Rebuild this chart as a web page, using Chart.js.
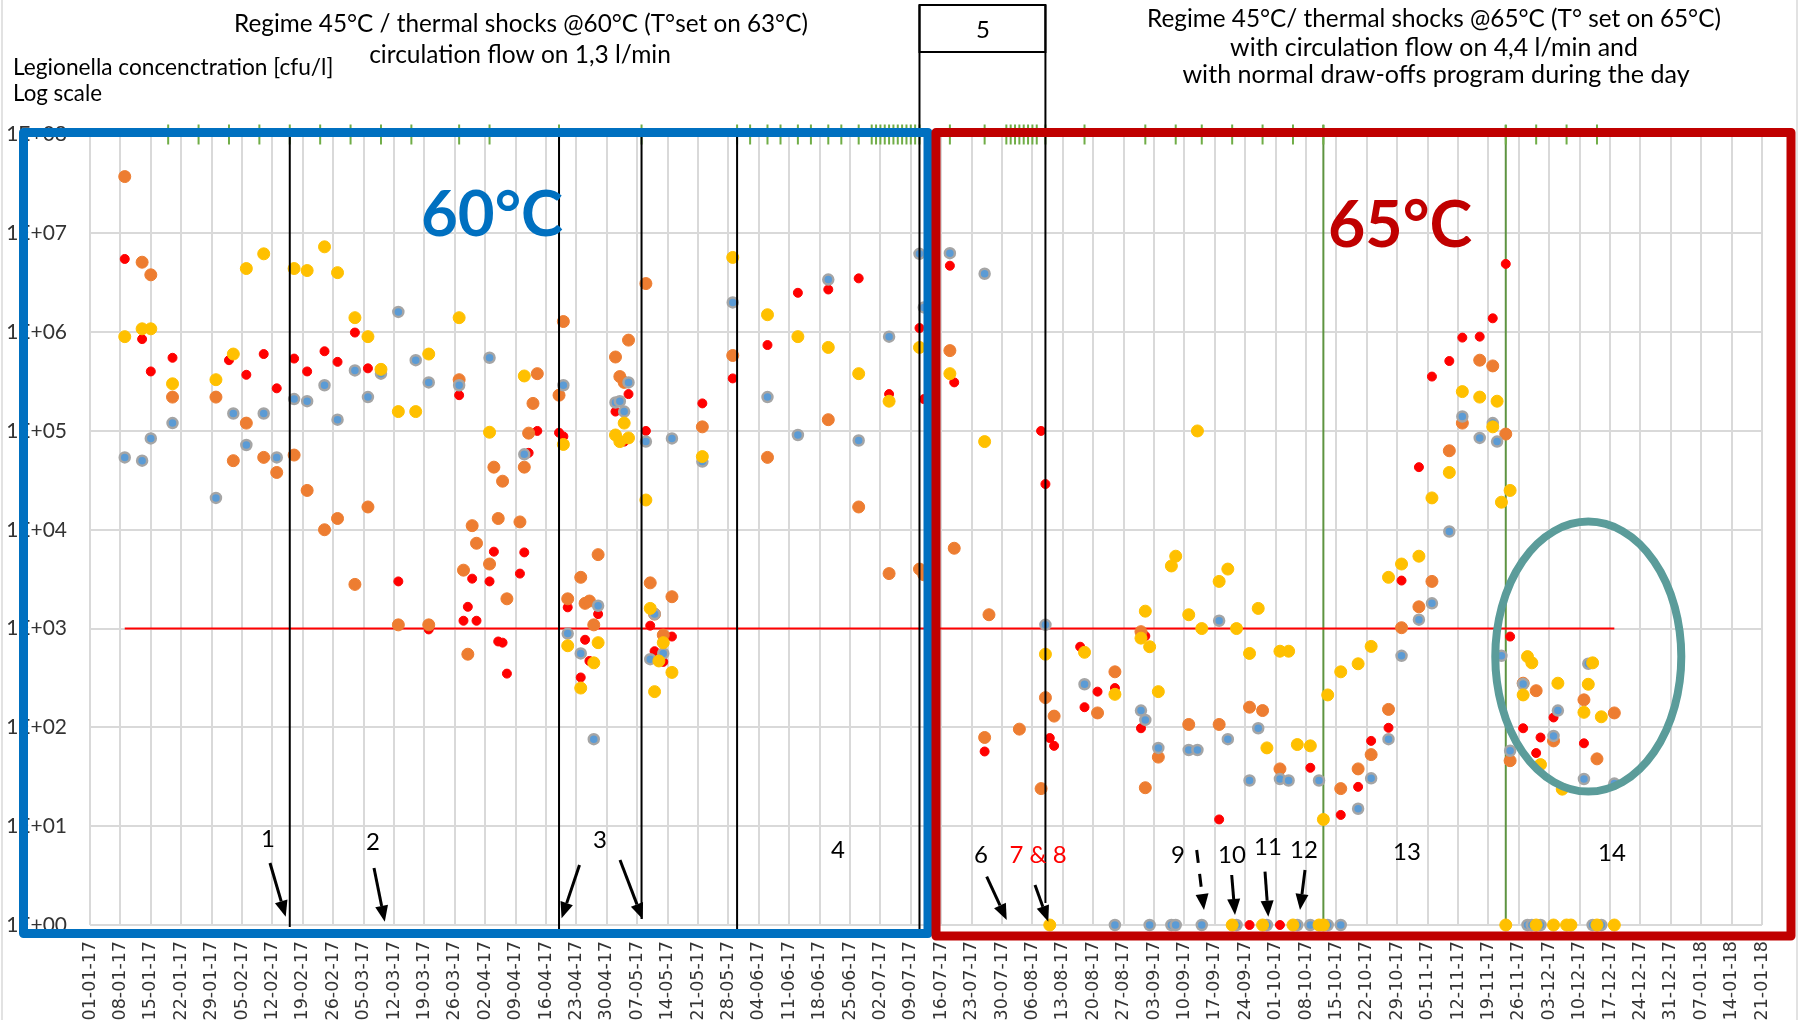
<!DOCTYPE html>
<html>
<head>
<meta charset="utf-8">
<script src="https://cdn.jsdelivr.net/npm/chart.js@4.4.1/dist/chart.umd.min.js"></script>
<style>
  html, body { margin: 0; padding: 0; background: #fff; }
  #wrap { width: 1799px; height: 1020px; }
</style>
</head>
<body>
<div id="wrap"><canvas id="chart" width="1799" height="1020"></canvas></div>
<script>
// x axis: weekly date labels (dd-mm-yy), x values are days since 01-01-17
const weekLabels = ['01-01-17','08-01-17','15-01-17','22-01-17','29-01-17','05-02-17','12-02-17','19-02-17','26-02-17',
  '05-03-17','12-03-17','19-03-17','26-03-17','02-04-17','09-04-17','16-04-17','23-04-17','30-04-17','07-05-17',
  '14-05-17','21-05-17','28-05-17','04-06-17','11-06-17','18-06-17','25-06-17','02-07-17','09-07-17','16-07-17',
  '23-07-17','30-07-17','06-08-17','13-08-17','20-08-17','27-08-17','03-09-17','10-09-17','17-09-17','24-09-17',
  '01-10-17','08-10-17','15-10-17','22-10-17','29-10-17','05-11-17','12-11-17','19-11-17','26-11-17','03-12-17',
  '10-12-17','17-12-17','24-12-17','31-12-17','07-01-18','14-01-18','21-01-18'];
const yTickValues = [1, 10, 100, 1e3, 1e4, 1e5, 1e6, 1e7, 1e8];

// Legionella concentration [cfu/l] per sampling point: [day, value] (value 1 = not detected)
const redPts = [[8,5.5e6],[12,8.5e5],[14,4.0e5],[19,5.5e5],[32,5.2e5],[36,3.7e5],[40,6.0e5],[43,2.7e5],[47,5.4e5],
  [50,4.0e5],[54,6.4e5],[57,5.0e5],[61,9.9e5],[64,4.3e5],[71,3.0e3],[78,980],[85,2.3e5],[86,1.2e3],[87,1.66e3],
  [88,3.2e3],[89,1.2e3],[92,3.0e3],[93,6.0e3],[94,740],[95,720],[96,350],[99,3.6e3],[100,5.9e3],[101,6.0e4],
  [103,1.0e5],[108,9.6e4],[109,8.8e4],[110,1.64e3],[113,320],[114,770],[115,470],[117,1.4e3],[121,1.57e5],
  [123,7.8e4],[124,2.36e5],[128,1.0e5],[129,1.07e3],[130,590],[132,460],[134,830],[141,1.9e5],[148,3.4e5],
  [156,7.4e5],[163,2.5e6],[170,2.7e6],[177,3.5e6],[184,2.36e5],[191,1.1e6],[192,2.1e5],[198,4.7e6],[199,3.1e5],
  [206,57],[219,1.0e5],[220,2.9e4],[221,78],[222,65],[228,655],[229,160],[232,230],[236,250],[242,98],[243,840],
  [260,11.7],[267,1],[274,1],[281,39],[288,13],[292,25],[295,73],[299,99],[302,3.06e3],[306,4.3e4],[309,3.55e5],
  [313,5.1e5],[316,8.8e5],[320,9.0e5],[323,1.38e6],[326,4.9e6],[327,830],[330,98],[333,55],[334,79],[337,126],[344,69]];
const orangePts = [[8,3.75e7],[12,5.1e6],[14,3.8e6],[19,2.2e5],[29,2.2e5],[33,5.0e4],[36,1.2e5],[40,5.4e4],[43,3.8e4],
  [47,5.7e4],[50,2.5e4],[54,1.0e4],[57,1.3e4],[61,2.8e3],[64,1.7e4],[71,1.09e3],[78,1.09e3],[85,3.3e5],[86,3.9e3],
  [87,550],[88,1.1e4],[89,7.3e3],[92,4.5e3],[93,4.3e4],[94,1.3e4],[95,3.1e4],[96,2.0e3],[99,1.2e4],[100,4.3e4],
  [101,9.5e4],[102,1.9e5],[103,3.8e5],[108,2.3e5],[109,1.28e6],[110,2.0e3],[113,3.3e3],[114,1.8e3],[115,1.9e3],
  [116,1.09e3],[117,5.6e3],[121,5.6e5],[122,3.55e5],[123,3.1e5],[124,8.3e5],[128,3.1e6],[129,2.9e3],[130,1.4e3],
  [132,860],[134,2.1e3],[141,1.1e5],[148,5.8e5],[156,5.4e4],[170,1.3e5],[177,1.7e4],[184,3.6e3],[191,4.0e3],
  [192,3.5e3],[198,6.5e5],[199,6.5e3],[206,79],[207,1.38e3],[214,96],[219,24],[220,200],[222,130],[232,140],
  [236,365],[242,930],[243,24.5],[246,50],[253,107],[260,107],[267,160],[270,148],[274,38],[288,24],[292,38],
  [295,53],[299,152],[302,1.02e3],[306,1.66e3],[309,3.0e3],[313,6.3e4],[316,1.2e5],[320,5.2e5],[323,4.55e5],
  [326,9.3e4],[327,46],[330,280],[333,235],[337,73],[344,190],[347,48],[351,140]];
const yellowPts = [[8,9.0e5],[12,1.08e6],[14,1.08e6],[19,3.0e5],[29,3.3e5],[33,6.0e5],[36,4.4e6],[40,6.2e6],[47,4.4e6],
  [50,4.2e6],[54,7.3e6],[57,4.0e6],[61,1.4e6],[64,9.0e5],[67,4.2e5],[71,1.57e5],[75,1.57e5],[78,6.0e5],[85,1.4e6],
  [92,9.7e4],[100,3.6e5],[109,7.3e4],[110,670],[113,250],[116,450],[117,720],[121,9.1e4],[122,7.8e4],[123,1.2e5],
  [124,8.5e4],[128,2.0e4],[129,1.6e3],[130,230],[131,470],[132,720],[134,360],[141,5.5e4],[148,5.7e6],[156,1.5e6],
  [163,9.0e5],[170,7.0e5],[177,3.8e5],[184,2.0e5],[191,7.0e5],[198,3.8e5],[206,7.8e4],[220,550],[221,1],[229,575],
  [236,216],[242,800],[243,1.5e3],[244,655],[246,230],[249,4.3e3],[250,5.4e3],[253,1.38e3],[255,1.0e5],[256,1.0e3],
  [260,3.0e3],[262,4.0e3],[263,1],[264,1.0e3],[267,560],[269,1.6e3],[270,1],[271,62],[274,590],[276,590],[277,1],
  [278,67],[281,65],[283,1],[284,11.7],[284,1],[285,213],[288,365],[292,440],[295,660],[299,3.3e3],[302,4.5e3],
  [306,5.4e3],[309,2.1e4],[313,3.8e4],[316,2.5e5],[320,2.2e5],[323,1.1e5],[324,2.0e5],[325,1.9e4],[326,1],
  [327,2.5e4],[330,213],[331,520],[332,450],[333,1],[334,42],[337,1],[338,280],[339,23.7],[340,1],[341,1],
  [344,142],[345,273],[346,450],[347,1],[348,128],[351,1]];
const bluePts = [[8,5.4e4],[12,5.0e4],[14,8.4e4],[19,1.2e5],[29,2.1e4],[33,1.5e5],[36,7.2e4],[40,1.5e5],[43,5.4e4],
  [47,2.1e5],[50,2.0e5],[54,2.9e5],[57,1.3e5],[61,4.1e5],[64,2.2e5],[67,3.8e5],[71,1.6e6],[75,5.2e5],[78,3.1e5],
  [85,2.9e5],[92,5.5e5],[100,5.8e4],[109,2.9e5],[110,890],[113,560],[116,76],[117,1.7e3],[121,1.94e5],[122,2.0e5],
  [123,1.57e5],[124,3.1e5],[128,7.8e4],[129,490],[130,1.4e3],[132,560],[134,8.4e4],[141,4.9e4],[148,2.0e6],
  [156,2.2e5],[163,9.1e4],[170,3.4e6],[177,8.0e4],[184,9.0e5],[191,6.2e6],[192,1.78e6],[198,6.3e6],[206,3.9e6],
  [220,1.09e3],[229,273],[236,1],[242,148],[243,119],[244,1],[246,62],[249,1],[250,1],[253,59],[255,59],[256,1],
  [260,1.2e3],[262,76],[264,1],[267,29],[269,98],[271,1],[274,30],[276,29],[278,1],[281,1],[283,29],[285,1],[288,1],
  [292,15],[295,30.5],[299,76],[302,530],[306,1.23e3],[309,1.8e3],[313,9.6e3],[316,1.4e5],[320,8.5e4],[323,1.2e5],
  [324,7.8e4],[325,530],[327,58],[330,275],[331,1],[332,1],[334,1],[337,82],[338,148],[344,30],[345,440],[346,1],
  [348,1],[351,27]];

// thermal shock days (green marks on top), interventions (black lines), regime changes (green lines)
const shockDays = [18,25,32,39,46,53,60,67,74,85,92,108,127,149,152,156,159,163,166,170,173,177,180,181,182,183,
  184,185,186,187,188,189,190,191,198,206,211,212,213,214,215,216,217,218,220,229,243,250,256,263,270,277,284,
  326,333,340,347];
const eventDays = [46, 108, 127, 149, 191, 220];
const changeDays = [284, 326];
const limitDays = [8, 351];
const limitValue = 1000;

const xy = pts => pts.map(p => ({ x: p[0], y: p[1] }));

// annotation layout (pixels)
const eventSpan = [[134, 927], [134, 931], [134, 919], [134, 930], [5, 935], [5, 903]];
const arrows = [
  [270, 863, 285.7, 916.7], [374, 868, 384.8, 921.7], [579.5, 865, 561.6, 918.3], [620, 860, 642.7, 919.3],
  [986.7, 876.7, 1006.7, 920], [1035, 885, 1048.3, 921.7], [1196.7, 850, 1204, 910, true],
  [1231.7, 875, 1235, 915], [1265, 871.7, 1268.3, 916.7], [1305, 870, 1300, 910]
];
const numLabels = [
  ['1', 268, 847], ['2', 373, 850], ['3', 600, 848], ['4', 838, 858], ['6', 981, 863], ['7 & 8', 1038, 863, '#ff0000'],
  ['9', 1178, 863], ['10', 1232, 863], ['11', 1268, 855], ['12', 1304, 858], ['13', 1407, 860], ['14', 1612, 861],
  ['5', 983, 38]
];
const titles = [
  ['Regime 45°C / thermal shocks @60°C (T°set on 63°C)', 521, 32, 574, 'center'],
  ['circulation flow on 1,3 l/min', 520, 63, 302, 'center'],
  ['Legionella concenctration [cfu/l]', 13, 75, 320, 'left'],
  ['Log scale', 13, 101, 89, 'left'],
  ['Regime 45°C/ thermal shocks @65°C (T° set on 65°C)', 1434, 27, 573, 'center'],
  ['with circulation flow on 4,4 l/min and', 1434, 56, 408, 'center'],
  ['with normal draw-offs program during the day', 1436, 83, 507, 'center']
];

function fitText(ctx, txt, x, y, w, weight, color, align) {
  ctx.font = weight + ' 100px Lato';
  const size = 100 * w / ctx.measureText(txt).width;
  ctx.font = weight + ' ' + size.toFixed(1) + 'px Lato';
  ctx.fillStyle = color;
  ctx.textAlign = align;
  ctx.textBaseline = 'alphabetic';
  ctx.fillText(txt, x, y);
}

function drawArrow(ctx, x1, y1, x2, y2, dashed) {
  const a = Math.atan2(y2 - y1, x2 - x1), hl = 16, hw = 6.5;
  const bx = x2 - hl * Math.cos(a), by = y2 - hl * Math.sin(a);
  ctx.strokeStyle = '#000'; ctx.fillStyle = '#000'; ctx.lineWidth = 3;
  ctx.setLineDash(dashed ? [13, 11] : []);
  ctx.beginPath(); ctx.moveTo(x1, y1); ctx.lineTo(bx, by); ctx.stroke();
  ctx.setLineDash([]);
  ctx.beginPath();
  ctx.moveTo(x2, y2);
  ctx.lineTo(bx + hw * Math.sin(a), by - hw * Math.cos(a));
  ctx.lineTo(bx - hw * Math.sin(a), by + hw * Math.cos(a));
  ctx.closePath(); ctx.fill();
}

const overlay = {
  id: 'overlay',
  beforeDatasetsDraw(chart) {
    const { ctx, scales: { x } } = chart;
    ctx.save();
    ctx.strokeStyle = '#5e9441'; ctx.lineWidth = 2;
    changeDays.forEach(d => {
      const px = x.getPixelForValue(d);
      ctx.beginPath(); ctx.moveTo(px, 125); ctx.lineTo(px, 930); ctx.stroke();
    });
    ctx.restore();
  },
  afterDatasetsDraw(chart) {
    const { ctx, scales: { x, y } } = chart;
    ctx.save();
    // intervention lines
    ctx.strokeStyle = '#000'; ctx.lineWidth = 2;
    eventDays.forEach((d, i) => {
      const px = x.getPixelForValue(d);
      ctx.beginPath(); ctx.moveTo(px, eventSpan[i][0]); ctx.lineTo(px, eventSpan[i][1]); ctx.stroke();
    });
    // box "5"
    const bx1 = x.getPixelForValue(eventDays[4]), bx2 = x.getPixelForValue(eventDays[5]);
    ctx.strokeRect(bx1, 5, bx2 - bx1, 47);
    arrows.forEach(a => drawArrow(ctx, a[0], a[1], a[2], a[3], a[4]));
    // ellipse around last period
    ctx.strokeStyle = '#5b9c9a'; ctx.lineWidth = 8;
    ctx.beginPath();
    ctx.ellipse(x.getPixelForValue(345), y.getPixelForValue(520), 93, 135, 0, 0, Math.PI * 2);
    ctx.stroke();
    ctx.restore();
  },
  afterDraw(chart) {
    const { ctx } = chart;
    ctx.save();
    ctx.strokeStyle = '#d9d9d9'; ctx.lineWidth = 1.5;
    ctx.beginPath(); ctx.moveTo(2, 0); ctx.lineTo(2, 1020); ctx.moveTo(1797, 0); ctx.lineTo(1797, 1020); ctx.stroke();
    // period frames
    ctx.lineJoin = 'round';
    ctx.lineWidth = 9;
    ctx.strokeStyle = '#0070c0';
    ctx.strokeRect(23.5, 132.5, 928 - 23.5, 933.5 - 132.5);
    ctx.strokeStyle = '#c00000';
    ctx.strokeRect(936, 132.5, 1791 - 936, 936 - 132.5);
    // texts
    titles.forEach(t => fitText(ctx, t[0], t[1], t[2], t[3], 'normal', '#000', t[4]));
    fitText(ctx, '60°C', 421, 236, 142, 'bold', '#0070c0', 'left');
    fitText(ctx, '65°C', 1328, 247, 144, 'bold', '#c00000', 'left');
    ctx.font = '24px Lato'; ctx.textAlign = 'center'; ctx.textBaseline = 'alphabetic';
    numLabels.forEach(l => { ctx.fillStyle = l[3] || '#000'; ctx.fillText(l[0], l[1], l[2]); });
    ctx.restore();
  }
};

const pointSet = (label, pts, r, bg, border, bw) => ({
  type: 'scatter', label, data: xy(pts), clip: false,
  pointRadius: r, pointHoverRadius: r, pointBackgroundColor: bg,
  pointBorderColor: border, pointBorderWidth: bw
});

new Chart(document.getElementById('chart'), {
  type: 'scatter',
  data: {
    datasets: [
      pointSet('yellow', yellowPts, 6, '#ffc000', '#ffc000', 1),
      pointSet('blue', bluePts, 5, '#5b9bd5', '#a5a5a5', 2.5),
      pointSet('orange', orangePts, 6, '#ed7d31', '#ed7d31', 1),
      pointSet('red', redPts, 4.5, '#ff0000', '#ff0000', 1),
      {
        type: 'scatter', label: 'limit', showLine: true, clip: false,
        data: limitDays.map(d => ({ x: d, y: limitValue })),
        borderColor: '#ff0000', borderWidth: 2, pointRadius: 0
      },
      {
        type: 'scatter', label: 'shocks', clip: false,
        data: shockDays.map(d => ({ x: d, y: 1e8 })),
        pointStyle: 'line', rotation: 90, pointRadius: 10, pointHoverRadius: 10,
        pointBorderColor: '#70ad47', pointBorderWidth: 2
      }
    ]
  },
  options: {
    responsive: false,
    animation: false,
    events: [],
    layout: { autoPadding: false, padding: { top: 134.5, right: 33, left: 0, bottom: 0 } },
    plugins: { legend: { display: false }, tooltip: { enabled: false } },
    scales: {
      x: {
        type: 'linear', min: 0, max: 385,
        afterBuildTicks: s => { s.ticks = weekLabels.map(l => {
          const p = l.split('-');
          return { value: (Date.UTC(2000 + +p[2], p[1] - 1, +p[0]) - Date.UTC(2017, 0, 1)) / 864e5 };
        }); },
        afterFit: s => { s.height = 95; },
        ticks: {
          autoSkip: false, minRotation: 90, maxRotation: 90, padding: 16,
          color: '#333', font: { family: 'DejaVu Sans', size: 17.5 },
          callback: (v, i) => weekLabels[i]
        },
        grid: { color: '#d9d9d9', lineWidth: 2, drawTicks: false },
        border: { display: false }
      },
      y: {
        type: 'logarithmic', min: 1, max: 1e8,
        afterBuildTicks: s => { s.ticks = yTickValues.map(v => ({ value: v })); },
        afterFit: s => { s.width = 90; },
        ticks: {
          padding: 23, color: '#333', font: { family: 'Lato', size: 21 },
          callback: v => '1E+' + String(Math.round(Math.log10(v))).padStart(2, '0')
        },
        grid: { color: '#d9d9d9', lineWidth: 2, drawTicks: false },
        border: { display: false }
      }
    }
  },
  plugins: [overlay]
});
</script>
</body>
</html>
